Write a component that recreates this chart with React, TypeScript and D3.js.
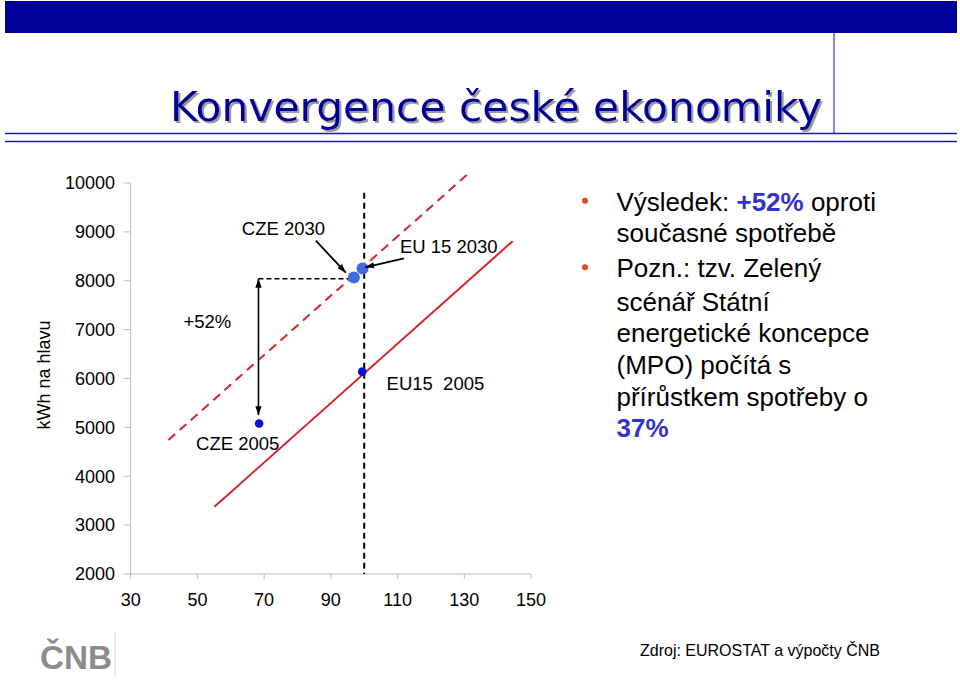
import React from 'react';
import * as d3 from 'd3';

// ---- data ----
const xTicks = [30, 50, 70, 90, 110, 130, 150];
const yTicks = [2000, 3000, 4000, 5000, 6000, 7000, 8000, 9000, 10000];

const trend2005X = [55.1, 144.5];
const trend2005Y = [3376, 8810];
const trend2030X = [41.3, 131.0];
const trend2030Y = [4740, 10180];

const pointNames = ['CZE 2005', 'EU15 2005', 'CZE 2030', 'EU15 2030'];
const pointX = [68.5, 99.4, 96.9, 99.5];
const pointY = [5080, 6140, 8067, 8250];
const pointYear = [2005, 2005, 2030, 2030];

const euIndex = 100;
const euLineTop = 9800;
const czeX = 68.3;
const czeLevel2030 = 8040;
const czeArrowBottom = 5250;
const czeLineEndX = 95.6;

const labelTexts = ['CZE 2030', 'EU 15 2030', 'EU15  2005', 'CZE 2005', '+52%'];
const labelX = [63.3, 110.7, 106.7, 49.6, 45.8];
const labelY = [9072, 8696, 5901, 4674, 7162];

const arrowFromX = [85.5, 111.9];
const arrowFromY = [8819, 8459];
const arrowToX = [94.5, 100.3];
const arrowToY = [8164, 8275];

const bulletLines: { parts: { t: string; hi?: boolean }[]; bullet?: boolean }[] = [
  { bullet: true, parts: [{ t: 'Výsledek: ' }, { t: '+52%', hi: true }, { t: ' oproti' }] },
  { parts: [{ t: 'současné spotřebě' }] },
  { bullet: true, parts: [{ t: 'Pozn.: tzv. Zelený' }] },
  { parts: [{ t: 'scénář Státní' }] },
  { parts: [{ t: 'energetické koncepce' }] },
  { parts: [{ t: '(MPO) počítá s' }] },
  { parts: [{ t: 'přírůstkem spotřeby o' }] },
  { parts: [{ t: '37%', hi: true }] },
];
const bulletLineCenters = [201.7, 233.3, 268.3, 301.7, 333.3, 365, 396.7, 428.3];

const titleText = 'Konvergence české ekonomiky';
const sourceText = 'Zdroj: EUROSTAT a výpočty ČNB';
const yTitle = 'kWh na hlavu';

const FONT = "'Liberation Sans', Arial, Helvetica, sans-serif";

export default function App() {
  const x = d3.scaleLinear().domain([30, 150]).range([130.7, 531]);
  const y = d3.scaleLinear().domain([2000, 10000]).range([574, 183]);
  const line = d3.line<[number, number]>().x(d => x(d[0])).y(d => y(d[1]));

  const red = '#d8232a';
  const axisCol = '#bdbdbd';

  return (
    <svg width={960} height={681} style={{ position: 'absolute', left: 0, top: 0, background: '#fff' }}
      fontFamily={FONT}>
      <defs>
        <marker id="ah" viewBox="0 0 10 10" refX="10" refY="5" markerWidth="9" markerHeight="9"
          markerUnits="userSpaceOnUse" orient="auto-start-reverse">
          <path d="M0,1.5 L10,5 L0,8.5 z" fill="#000" />
        </marker>
        <filter id="shadow" x="-5%" y="-20%" width="110%" height="150%">
          <feDropShadow dx="2" dy="2" stdDeviation="0.6" floodColor="#9a9a9a" floodOpacity="1" />
        </filter>
      </defs>
      <rect x={0} y={0} width={960} height={681} fill="#fff" />
      {/* header */}
      <rect x={5} y={1} width={952} height={32} fill="#000099" />
      <line x1={834} x2={834} y1={33} y2={133} stroke="#3a3aa8" strokeWidth={1.2} />
      <line x1={5} x2={957} y1={133.5} y2={133.5} stroke="#1a1a99" strokeWidth={1.5} />
      <line x1={5} x2={957} y1={141.5} y2={141.5} stroke="#1a1a99" strokeWidth={1.5} />
      <text x={170} y={121} fontSize={40} fill="#000099" textLength={652} lengthAdjust="spacingAndGlyphs"
        filter="url(#shadow)"
        fontFamily="'DejaVu Sans Condensed', 'DejaVu Sans', Verdana, sans-serif">{titleText}</text>

      {/* axes */}
      <line x1={x(30)} x2={x(30)} y1={y(10000)} y2={y(2000)} stroke={axisCol} strokeWidth={1} />
      <line x1={x(30)} x2={x(150)} y1={y(2000)} y2={y(2000)} stroke={axisCol} strokeWidth={1} />
      {yTicks.map(t => (
        <g key={'y' + t}>
          <line x1={x(30) - 7} x2={x(30)} y1={y(t)} y2={y(t)} stroke={axisCol} />
          <text x={115} y={y(t)} dy="0.35em" textAnchor="end" fontSize={18} fill="#000">{t}</text>
        </g>
      ))}
      {xTicks.map(t => (
        <g key={'x' + t}>
          <line x1={x(t)} x2={x(t)} y1={y(2000)} y2={y(2000) + 5} stroke={axisCol} />
          <text x={x(t)} y={600} dy="0.35em" textAnchor="middle" fontSize={18} fill="#000">{t}</text>
        </g>
      ))}
      <text transform={`translate(44,375) rotate(-90)`} textAnchor="middle" dy="0.35em" fontSize={18} fill="#000">{yTitle}</text>

      {/* reference lines */}
      <line x1={x(euIndex)} x2={x(euIndex)} y1={y(euLineTop)} y2={y(2000)} stroke="#000" strokeWidth={2} strokeDasharray="6 4" />
      <path d={line([[trend2005X[0], trend2005Y[0]], [trend2005X[1], trend2005Y[1]]]) || ''} stroke={red} strokeWidth={2} fill="none" />
      <path d={line([[trend2030X[0], trend2030Y[0]], [trend2030X[1], trend2030Y[1]]]) || ''} stroke={red} strokeWidth={2} fill="none" strokeDasharray="9 6" />
      <line x1={x(czeX)} x2={x(czeLineEndX)} y1={y(czeLevel2030)} y2={y(czeLevel2030)} stroke="#000" strokeWidth={1.5} strokeDasharray="5 3" />
      <line x1={x(czeX)} x2={x(czeX)} y1={y(czeLevel2030)} y2={y(czeArrowBottom)} stroke="#000" strokeWidth={1.6}
        markerStart="url(#ah)" markerEnd="url(#ah)" />

      {/* points */}
      {pointNames.map((n, i) => (
        <circle key={n} cx={x(pointX[i])} cy={y(pointY[i])} r={pointYear[i] === 2030 ? 6 : 4.3}
          fill={pointYear[i] === 2030 ? '#4169e1' : '#0a10d8'} />
      ))}

      {/* annotation arrows */}
      {arrowFromX.map((ax, i) => (
        <line key={'a' + i} x1={x(ax)} y1={y(arrowFromY[i])} x2={x(arrowToX[i])} y2={y(arrowToY[i])}
          stroke="#000" strokeWidth={1.8} markerEnd="url(#ah)" />
      ))}
      {labelTexts.map((t, i) => (
        <text key={t} x={x(labelX[i])} y={y(labelY[i])} dy="0.35em" fontSize={18.5} fill="#000"
          style={{ whiteSpace: 'pre' }} xmlSpace="preserve">{t}</text>
      ))}

      {/* bullets */}
      {bulletLines.map((l, i) => (
        <g key={'b' + i}>
          {l.bullet && <circle cx={585} cy={bulletLineCenters[i] - 1} r={3} fill="#e8462a" />}
          <text x={616.5} y={bulletLineCenters[i] + 9} fontSize={26} fill="#000">
            {l.parts.map((p, j) => (
              <tspan key={j} fill={p.hi ? '#3333cc' : '#000'} fontWeight={p.hi ? 'bold' : 'normal'}
                style={{ whiteSpace: 'pre' }}>{p.t}</tspan>
            ))}
          </text>
        </g>
      ))}

      {/* footer */}
      <text x={40} y={669} fontSize={34} fill="#8c8c8c" fontWeight="bold" textLength={72} lengthAdjust="spacingAndGlyphs"
        fontFamily="'Liberation Sans Narrow', 'Liberation Sans', Arial, sans-serif">ČNB</text>
      <line x1={115} x2={115} y1={632} y2={678} stroke="#dcdcdc" strokeWidth={1} />
      <text x={640} y={656} fontSize={17} fill="#000" textLength={240} lengthAdjust="spacingAndGlyphs"
        fontFamily="'Liberation Sans Narrow', 'Liberation Sans', Arial, sans-serif">{sourceText}</text>
    </svg>
  );
}
